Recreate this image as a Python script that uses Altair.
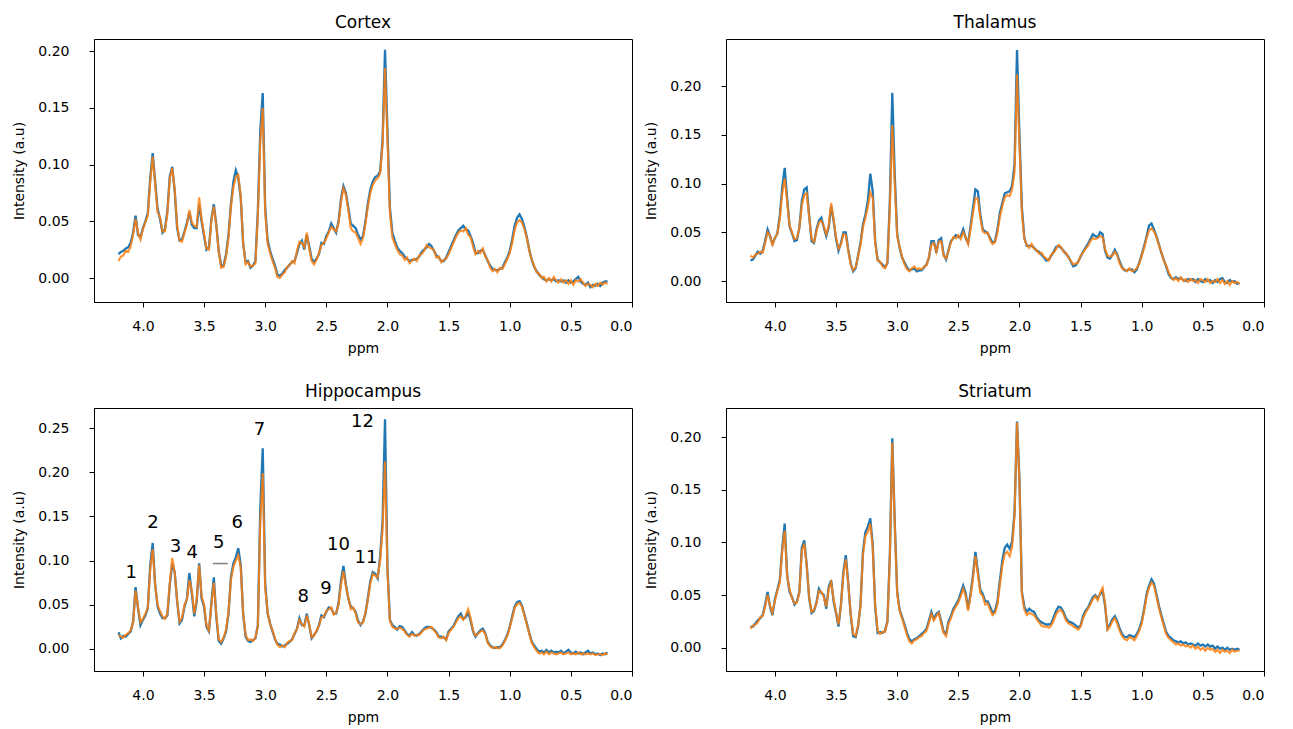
import altair as alt
import pandas as pd

# chemical shift grid (ppm), 4.20 -> 0.20 in 0.02 steps
PPM = [round(4.2 - 0.02 * i, 2) for i in range(201)]

CORTEX_BLUE = [
    0.021, 0.023, 0.024, 0.026, 0.027, 0.031, 0.040, 0.055, 0.038, 0.036,
    0.044, 0.050, 0.057, 0.088, 0.110, 0.085, 0.061, 0.052, 0.040, 0.043,
    0.059, 0.090, 0.098, 0.077, 0.044, 0.033, 0.034, 0.041, 0.049, 0.058,
    0.047, 0.044, 0.044, 0.065, 0.050, 0.037, 0.025, 0.027, 0.052, 0.065,
    0.047, 0.024, 0.011, 0.011, 0.021, 0.038, 0.065, 0.085, 0.095, 0.088,
    0.071, 0.030, 0.014, 0.015, 0.009, 0.011, 0.015, 0.059, 0.130, 0.163,
    0.062, 0.033, 0.024, 0.017, 0.011, 0.003, 0.002, 0.004, 0.007, 0.009,
    0.012, 0.014, 0.015, 0.022, 0.030, 0.033, 0.025, 0.038, 0.028, 0.017,
    0.014, 0.017, 0.021, 0.031, 0.030, 0.037, 0.041, 0.048, 0.044, 0.040,
    0.050, 0.070, 0.081, 0.075, 0.062, 0.048, 0.046, 0.044, 0.038, 0.034,
    0.037, 0.050, 0.066, 0.078, 0.085, 0.089, 0.090, 0.094, 0.121, 0.201,
    0.130, 0.062, 0.040, 0.033, 0.027, 0.024, 0.022, 0.019, 0.017, 0.015,
    0.016, 0.016, 0.017, 0.019, 0.023, 0.025, 0.027, 0.030, 0.028, 0.024,
    0.020, 0.018, 0.015, 0.015, 0.018, 0.023, 0.028, 0.033, 0.038, 0.042,
    0.044, 0.046, 0.043, 0.042, 0.037, 0.031, 0.022, 0.022, 0.024, 0.025,
    0.020, 0.015, 0.011, 0.008, 0.007, 0.007, 0.008, 0.009, 0.014, 0.018,
    0.024, 0.034, 0.046, 0.053, 0.056, 0.052, 0.045, 0.036, 0.025, 0.016,
    0.010, 0.006, 0.003, 0.001, -0.001, -0.002, -0.001, -0.002, -0.001, -0.003,
    -0.002, -0.003, -0.002, -0.004, -0.002, -0.004, -0.003, -0.001, 0.001, -0.003,
    -0.005, -0.006, -0.004, -0.008, -0.006, -0.007, -0.005, -0.007, -0.004, -0.003, -0.003,
]
CORTEX_ORANGE = [
    0.015, 0.019, 0.020, 0.024, 0.023, 0.028, 0.038, 0.052, 0.040, 0.034,
    0.043, 0.049, 0.055, 0.085, 0.107, 0.083, 0.058, 0.054, 0.041, 0.041,
    0.057, 0.088, 0.097, 0.078, 0.046, 0.033, 0.032, 0.040, 0.047, 0.060,
    0.049, 0.046, 0.045, 0.071, 0.052, 0.039, 0.026, 0.025, 0.050, 0.063,
    0.046, 0.023, 0.009, 0.010, 0.019, 0.036, 0.063, 0.080, 0.089, 0.091,
    0.072, 0.031, 0.012, 0.014, 0.010, 0.011, 0.013, 0.055, 0.120, 0.150,
    0.058, 0.030, 0.022, 0.015, 0.009, 0.001, 0.000, 0.003, 0.005, 0.010,
    0.011, 0.015, 0.013, 0.024, 0.032, 0.031, 0.027, 0.040, 0.026, 0.015,
    0.012, 0.016, 0.022, 0.029, 0.031, 0.035, 0.040, 0.045, 0.043, 0.041,
    0.048, 0.067, 0.079, 0.073, 0.060, 0.044, 0.041, 0.040, 0.035, 0.030,
    0.035, 0.048, 0.063, 0.075, 0.082, 0.086, 0.088, 0.092, 0.117, 0.185,
    0.122, 0.058, 0.036, 0.030, 0.025, 0.021, 0.020, 0.016, 0.018, 0.013,
    0.015, 0.017, 0.015, 0.020, 0.021, 0.024, 0.029, 0.027, 0.026, 0.025,
    0.018, 0.019, 0.014, 0.016, 0.017, 0.021, 0.026, 0.031, 0.036, 0.040,
    0.042, 0.041, 0.044, 0.038, 0.036, 0.028, 0.021, 0.024, 0.022, 0.026,
    0.019, 0.016, 0.009, 0.006, 0.008, 0.005, 0.009, 0.008, 0.012, 0.017,
    0.022, 0.031, 0.042, 0.049, 0.051, 0.049, 0.043, 0.035, 0.024, 0.016,
    0.011, 0.005, 0.004, 0.000, 0.001, -0.003, 0.000, -0.003, 0.001, -0.002,
    -0.004, -0.001, -0.004, -0.002, -0.005, -0.002, -0.006, -0.002, -0.003, -0.001,
    -0.004, -0.007, -0.005, -0.006, -0.008, -0.005, -0.007, -0.004, -0.006, -0.004, -0.005,
]

THALAMUS_BLUE = [
    0.021, 0.022, 0.026, 0.030, 0.028, 0.031, 0.041, 0.053, 0.046, 0.038,
    0.044, 0.049, 0.067, 0.096, 0.116, 0.085, 0.056, 0.049, 0.041, 0.042,
    0.055, 0.082, 0.094, 0.096, 0.067, 0.041, 0.039, 0.053, 0.062, 0.065,
    0.055, 0.046, 0.055, 0.077, 0.062, 0.043, 0.031, 0.039, 0.050, 0.050,
    0.032, 0.018, 0.010, 0.013, 0.026, 0.039, 0.058, 0.068, 0.082, 0.110,
    0.092, 0.041, 0.022, 0.019, 0.017, 0.014, 0.018, 0.082, 0.193, 0.109,
    0.048, 0.034, 0.024, 0.019, 0.014, 0.011, 0.012, 0.013, 0.010, 0.011,
    0.011, 0.014, 0.017, 0.024, 0.041, 0.041, 0.029, 0.042, 0.044, 0.027,
    0.022, 0.032, 0.041, 0.044, 0.047, 0.045, 0.046, 0.053, 0.044, 0.039,
    0.056, 0.075, 0.094, 0.092, 0.068, 0.053, 0.051, 0.049, 0.044, 0.039,
    0.041, 0.053, 0.070, 0.080, 0.090, 0.091, 0.092, 0.098, 0.120, 0.237,
    0.150, 0.075, 0.044, 0.036, 0.036, 0.036, 0.034, 0.031, 0.030, 0.027,
    0.024, 0.021, 0.022, 0.026, 0.030, 0.035, 0.036, 0.034, 0.031, 0.028,
    0.025, 0.020, 0.015, 0.016, 0.020, 0.025, 0.030, 0.034, 0.038, 0.043,
    0.048, 0.046, 0.045, 0.050, 0.048, 0.031, 0.024, 0.023, 0.027, 0.032,
    0.027, 0.020, 0.014, 0.011, 0.011, 0.012, 0.012, 0.009, 0.012, 0.019,
    0.027, 0.036, 0.046, 0.057, 0.059, 0.053, 0.046, 0.038, 0.029, 0.022,
    0.015, 0.007, 0.003, 0.002, 0.004, 0.002, 0.003, 0.001, 0.000, 0.002,
    0.001, 0.002, -0.001, 0.002, 0.000, -0.001, 0.002, 0.000, 0.001, -0.002,
    0.001, -0.001, 0.002, 0.003, -0.001, -0.002, 0.001, -0.001, 0.000, -0.003, -0.002,
]
THALAMUS_ORANGE = [
    0.026, 0.024, 0.027, 0.028, 0.030, 0.029, 0.039, 0.050, 0.047, 0.036,
    0.045, 0.048, 0.064, 0.090, 0.105, 0.082, 0.057, 0.050, 0.043, 0.044,
    0.054, 0.078, 0.088, 0.090, 0.066, 0.043, 0.040, 0.051, 0.060, 0.062,
    0.056, 0.048, 0.057, 0.080, 0.063, 0.045, 0.033, 0.037, 0.048, 0.047,
    0.031, 0.017, 0.011, 0.014, 0.025, 0.037, 0.055, 0.065, 0.076, 0.091,
    0.085, 0.040, 0.021, 0.020, 0.015, 0.013, 0.019, 0.075, 0.160, 0.100,
    0.046, 0.035, 0.025, 0.017, 0.012, 0.010, 0.013, 0.015, 0.012, 0.013,
    0.012, 0.015, 0.016, 0.025, 0.037, 0.039, 0.030, 0.040, 0.041, 0.026,
    0.023, 0.031, 0.040, 0.045, 0.044, 0.047, 0.043, 0.050, 0.045, 0.038,
    0.053, 0.070, 0.085, 0.084, 0.065, 0.051, 0.049, 0.050, 0.042, 0.038,
    0.040, 0.050, 0.066, 0.077, 0.086, 0.088, 0.087, 0.094, 0.112, 0.212,
    0.140, 0.070, 0.043, 0.037, 0.034, 0.038, 0.033, 0.032, 0.028, 0.029,
    0.025, 0.023, 0.021, 0.027, 0.029, 0.033, 0.037, 0.035, 0.030, 0.029,
    0.024, 0.021, 0.017, 0.018, 0.019, 0.026, 0.029, 0.033, 0.036, 0.041,
    0.044, 0.043, 0.044, 0.046, 0.045, 0.033, 0.026, 0.025, 0.026, 0.030,
    0.026, 0.018, 0.013, 0.012, 0.010, 0.013, 0.010, 0.011, 0.013, 0.018,
    0.026, 0.034, 0.044, 0.052, 0.054, 0.051, 0.045, 0.037, 0.030, 0.021,
    0.016, 0.009, 0.004, 0.001, 0.003, 0.000, 0.004, 0.000, 0.002, -0.001,
    0.002, 0.000, 0.001, -0.002, 0.002, 0.001, -0.001, 0.002, -0.002, 0.000,
    -0.001, 0.002, -0.002, 0.001, -0.003, 0.000, -0.004, 0.000, -0.002, -0.001, -0.003,
]

HIPPOCAMPUS_BLUE = [
    0.019, 0.012, 0.015, 0.014, 0.017, 0.020, 0.031, 0.070, 0.046, 0.027,
    0.033, 0.038, 0.046, 0.095, 0.120, 0.073, 0.048, 0.040, 0.035, 0.035,
    0.038, 0.073, 0.097, 0.087, 0.054, 0.029, 0.033, 0.048, 0.057, 0.086,
    0.063, 0.037, 0.054, 0.097, 0.057, 0.048, 0.025, 0.020, 0.052, 0.081,
    0.037, 0.009, 0.006, 0.012, 0.020, 0.040, 0.082, 0.097, 0.104, 0.114,
    0.095, 0.039, 0.014, 0.009, 0.008, 0.010, 0.012, 0.027, 0.160, 0.227,
    0.074, 0.040, 0.029, 0.020, 0.011, 0.006, 0.005, 0.003, 0.004, 0.006,
    0.008, 0.011, 0.017, 0.023, 0.035, 0.027, 0.027, 0.040, 0.027, 0.012,
    0.016, 0.020, 0.027, 0.038, 0.036, 0.042, 0.047, 0.046, 0.040, 0.040,
    0.052, 0.077, 0.094, 0.073, 0.057, 0.048, 0.046, 0.042, 0.032, 0.027,
    0.031, 0.040, 0.058, 0.077, 0.087, 0.085, 0.080, 0.104, 0.144, 0.260,
    0.092, 0.033, 0.027, 0.025, 0.022, 0.026, 0.025, 0.021, 0.017, 0.015,
    0.019, 0.016, 0.015, 0.017, 0.020, 0.023, 0.025, 0.025, 0.024, 0.022,
    0.019, 0.014, 0.014, 0.013, 0.011, 0.020, 0.023, 0.026, 0.032, 0.037,
    0.040, 0.034, 0.036, 0.041, 0.032, 0.020, 0.014, 0.018, 0.021, 0.023,
    0.018, 0.008, 0.004, 0.002, 0.001, 0.002, 0.002, 0.005, 0.010, 0.016,
    0.025, 0.037, 0.048, 0.053, 0.054, 0.049, 0.039, 0.029, 0.018, 0.008,
    0.004, 0.000, -0.003, -0.002, -0.004, -0.001, -0.004, -0.002, -0.004, -0.003,
    -0.004, -0.002, -0.005, -0.003, -0.001, -0.004, -0.005, -0.003, -0.005, -0.004,
    -0.006, -0.004, -0.002, -0.005, -0.004, -0.006, -0.005, -0.007, -0.005, -0.006, -0.004,
]
HIPPOCAMPUS_ORANGE = [
    0.016, 0.014, 0.013, 0.016, 0.018, 0.021, 0.030, 0.066, 0.047, 0.030,
    0.034, 0.040, 0.047, 0.090, 0.113, 0.072, 0.050, 0.043, 0.037, 0.034,
    0.040, 0.075, 0.103, 0.086, 0.055, 0.031, 0.035, 0.050, 0.056, 0.078,
    0.066, 0.040, 0.056, 0.095, 0.060, 0.050, 0.027, 0.021, 0.050, 0.075,
    0.039, 0.011, 0.008, 0.013, 0.022, 0.042, 0.078, 0.093, 0.100, 0.106,
    0.092, 0.040, 0.016, 0.010, 0.011, 0.009, 0.013, 0.026, 0.145, 0.199,
    0.070, 0.041, 0.028, 0.021, 0.012, 0.005, 0.002, 0.004, 0.002, 0.007,
    0.009, 0.010, 0.018, 0.022, 0.033, 0.028, 0.025, 0.038, 0.028, 0.013,
    0.015, 0.021, 0.026, 0.036, 0.037, 0.043, 0.045, 0.047, 0.039, 0.041,
    0.050, 0.073, 0.088, 0.071, 0.058, 0.045, 0.047, 0.040, 0.030, 0.028,
    0.030, 0.041, 0.056, 0.074, 0.085, 0.083, 0.081, 0.100, 0.135, 0.212,
    0.088, 0.032, 0.025, 0.023, 0.023, 0.024, 0.023, 0.020, 0.016, 0.014,
    0.017, 0.015, 0.016, 0.016, 0.019, 0.022, 0.023, 0.024, 0.025, 0.021,
    0.018, 0.013, 0.012, 0.014, 0.010, 0.018, 0.022, 0.025, 0.030, 0.035,
    0.037, 0.033, 0.038, 0.045, 0.035, 0.021, 0.015, 0.017, 0.020, 0.021,
    0.017, 0.007, 0.003, 0.001, 0.002, 0.001, 0.001, 0.004, 0.009, 0.015,
    0.024, 0.035, 0.046, 0.051, 0.052, 0.048, 0.038, 0.028, 0.017, 0.007,
    0.002, -0.002, -0.005, -0.004, -0.006, -0.003, -0.006, -0.004, -0.005, -0.006,
    -0.005, -0.004, -0.006, -0.005, -0.004, -0.006, -0.005, -0.006, -0.004, -0.006,
    -0.005, -0.006, -0.005, -0.006, -0.005, -0.007, -0.006, -0.006, -0.007, -0.005, -0.006,
]

STRIATUM_BLUE = [
    0.020, 0.020, 0.023, 0.026, 0.028, 0.031, 0.041, 0.053, 0.039, 0.031,
    0.046, 0.055, 0.064, 0.095, 0.118, 0.069, 0.053, 0.048, 0.041, 0.044,
    0.053, 0.095, 0.102, 0.079, 0.047, 0.033, 0.035, 0.043, 0.056, 0.052,
    0.050, 0.037, 0.058, 0.064, 0.044, 0.033, 0.020, 0.041, 0.072, 0.088,
    0.061, 0.031, 0.011, 0.010, 0.020, 0.041, 0.091, 0.110, 0.115, 0.123,
    0.098, 0.039, 0.014, 0.015, 0.014, 0.016, 0.025, 0.088, 0.199, 0.120,
    0.053, 0.036, 0.029, 0.022, 0.014, 0.008, 0.006, 0.008, 0.009, 0.011,
    0.013, 0.015, 0.018, 0.026, 0.034, 0.027, 0.032, 0.034, 0.025, 0.015,
    0.013, 0.025, 0.030, 0.037, 0.041, 0.045, 0.052, 0.059, 0.052, 0.037,
    0.051, 0.069, 0.091, 0.072, 0.055, 0.051, 0.044, 0.044, 0.039, 0.033,
    0.035, 0.044, 0.064, 0.083, 0.095, 0.098, 0.094, 0.101, 0.129, 0.215,
    0.160, 0.053, 0.039, 0.034, 0.037, 0.035, 0.034, 0.029, 0.026, 0.024,
    0.023, 0.022, 0.022, 0.023, 0.029, 0.035, 0.039, 0.038, 0.034, 0.028,
    0.025, 0.024, 0.023, 0.021, 0.019, 0.021, 0.030, 0.035, 0.038, 0.043,
    0.048, 0.050, 0.047, 0.051, 0.054, 0.040, 0.018, 0.022, 0.027, 0.030,
    0.025, 0.018, 0.013, 0.010, 0.010, 0.012, 0.011, 0.010, 0.013, 0.018,
    0.025, 0.037, 0.051, 0.059, 0.065, 0.061, 0.051, 0.040, 0.031, 0.023,
    0.015, 0.011, 0.009, 0.007, 0.006, 0.005, 0.006, 0.004, 0.005, 0.003,
    0.004, 0.003, 0.002, 0.004, 0.002, 0.003, 0.001, 0.003, 0.001, 0.002,
    -0.001, 0.001, -0.001, 0.000, -0.002, 0.000, -0.002, -0.001, -0.002, -0.001, -0.002,
]
STRIATUM_ORANGE = [
    0.018, 0.021, 0.022, 0.024, 0.029, 0.030, 0.039, 0.050, 0.040, 0.033,
    0.045, 0.054, 0.062, 0.092, 0.111, 0.068, 0.055, 0.047, 0.042, 0.043,
    0.052, 0.092, 0.099, 0.078, 0.048, 0.034, 0.036, 0.042, 0.054, 0.053,
    0.048, 0.039, 0.056, 0.062, 0.046, 0.034, 0.022, 0.040, 0.070, 0.084,
    0.060, 0.032, 0.013, 0.011, 0.021, 0.040, 0.088, 0.106, 0.110, 0.118,
    0.095, 0.040, 0.016, 0.013, 0.015, 0.015, 0.024, 0.085, 0.195, 0.118,
    0.051, 0.035, 0.028, 0.020, 0.012, 0.006, 0.004, 0.007, 0.008, 0.010,
    0.011, 0.014, 0.016, 0.024, 0.032, 0.026, 0.030, 0.033, 0.023, 0.014,
    0.011, 0.023, 0.028, 0.035, 0.039, 0.043, 0.049, 0.056, 0.049, 0.035,
    0.049, 0.066, 0.087, 0.070, 0.052, 0.049, 0.041, 0.042, 0.036, 0.031,
    0.033, 0.041, 0.060, 0.078, 0.089, 0.091, 0.087, 0.096, 0.126, 0.214,
    0.158, 0.051, 0.036, 0.031, 0.033, 0.032, 0.031, 0.027, 0.024, 0.021,
    0.020, 0.020, 0.019, 0.021, 0.026, 0.032, 0.035, 0.036, 0.032, 0.026,
    0.023, 0.022, 0.020, 0.019, 0.017, 0.020, 0.028, 0.033, 0.037, 0.041,
    0.046, 0.049, 0.045, 0.052, 0.057, 0.042, 0.017, 0.020, 0.025, 0.028,
    0.023, 0.016, 0.011, 0.008, 0.007, 0.010, 0.009, 0.007, 0.011, 0.016,
    0.023, 0.035, 0.049, 0.057, 0.062, 0.059, 0.049, 0.038, 0.029, 0.021,
    0.013, 0.009, 0.007, 0.005, 0.003, 0.004, 0.002, 0.003, 0.001, 0.002,
    0.000, 0.002, -0.001, 0.001, -0.002, 0.000, -0.003, 0.000, -0.002, -0.001,
    -0.004, -0.002, -0.005, -0.002, -0.004, -0.003, -0.005, -0.002, -0.004, -0.003, -0.003,
]

# Hippocampus peak annotations
ANNOT_TEXT = ["1", "2", "3", "4", "5", "6", "7", "8", "9", "10", "11", "12"]
ANNOT_PPM = [4.095, 3.918, 3.733, 3.597, 3.380, 3.229, 3.047, 2.688, 2.503, 2.400, 2.176, 2.204]
ANNOT_VAL = [0.0857, 0.1423, 0.1159, 0.1091, 0.1197, 0.1423, 0.2482, 0.0593, 0.0675, 0.1179, 0.1035, 0.2572]
MARK5_PPM = [3.429, 3.306]
MARK5_VAL = 0.0967

X_TICKS = [0.0, 0.5, 1.0, 1.5, 2.0, 2.5, 3.0, 3.5, 4.0]

PANELS = [
    ("Cortex", CORTEX_BLUE, CORTEX_ORANGE, [-0.0211, 0.2106], [0.0, 0.05, 0.10, 0.15, 0.20]),
    ("Thalamus", THALAMUS_BLUE, THALAMUS_ORANGE, [-0.0215, 0.2482], [0.0, 0.05, 0.10, 0.15, 0.20]),
    ("Hippocampus", HIPPOCAMPUS_BLUE, HIPPOCAMPUS_ORANGE, [-0.0249, 0.2727], [0.0, 0.05, 0.10, 0.15, 0.20, 0.25]),
    ("Striatum", STRIATUM_BLUE, STRIATUM_ORANGE, [-0.0222, 0.2279], [0.0, 0.05, 0.10, 0.15, 0.20]),
]

W, H = 538, 263


def make_panel(title, blue, orange, ydom, yticks, annotate=False):
    for arr in (blue, orange):
        if len(arr) != len(PPM):
            raise ValueError(f"{title}: {len(arr)} values for {len(PPM)} ppm points")
    x = alt.X("ppm:Q",
              scale=alt.Scale(domain=[0, 4.4], reverse=True, nice=False, zero=False),
              axis=alt.Axis(values=X_TICKS, format=".1f", title="ppm"))
    y = alt.Y("val:Q",
              scale=alt.Scale(domain=ydom, nice=False, zero=False),
              axis=alt.Axis(values=yticks, format=".2f", title="Intensity (a.u)"))
    dfb = pd.DataFrame({"ppm": PPM, "val": blue})
    dfo = pd.DataFrame({"ppm": PPM, "val": orange})
    lb = alt.Chart(dfb).mark_line(color="#1f77b4", strokeWidth=2.3, clip=True).encode(x=x, y=y)
    lo = alt.Chart(dfo).mark_line(color="#ff7f0e", strokeWidth=2.1, opacity=0.85, clip=True).encode(x=x, y=y)
    layers = [lb, lo]
    if annotate:
        dft = pd.DataFrame({"ppm": ANNOT_PPM, "val": ANNOT_VAL, "label": ANNOT_TEXT})
        txt = alt.Chart(dft).mark_text(fontSize=18, font="DejaVu Sans", color="black",
                                       align="center", baseline="middle").encode(
            x=x, y=y, text="label:N")
        dfr = pd.DataFrame({"ppm": [MARK5_PPM[0]], "ppm2": [MARK5_PPM[1]], "val": [MARK5_VAL]})
        rule = alt.Chart(dfr).mark_rule(color="#808080", strokeWidth=1.5).encode(
            x=x, x2="ppm2:Q", y=y)
        layers += [rule, txt]
    return alt.layer(*layers).properties(
        width=W, height=H,
        title=alt.TitleParams(title, fontSize=17, font="DejaVu Sans", fontWeight="normal",
                              color="black", anchor="middle", offset=7))


cortex = make_panel(*PANELS[0])
thalamus = make_panel(*PANELS[1])
hippo = make_panel(*PANELS[2], annotate=True)
striatum = make_panel(*PANELS[3])

top = alt.hconcat(cortex, thalamus, spacing=11)
bottom = alt.hconcat(hippo, striatum, spacing=11)

chart = alt.vconcat(top, bottom, spacing=26).properties(
    padding={"left": 4, "top": 5, "right": 5, "bottom": 5},
    background="white",
).configure_axis(
    labelFont="DejaVu Sans", labelFontSize=14, labelColor="black",
    titleFont="DejaVu Sans", titleFontSize=14, titleFontWeight="normal", titleColor="black",
    tickColor="black", tickSize=5, domainColor="black", grid=False,
).configure_axisY(labelPadding=20, titlePadding=11).configure_axisX(
    labelPadding=12, titlePadding=8
).configure_view(
    stroke="black", strokeWidth=1
)

chart.save("out.html", embed_options={"renderer": "svg", "actions": False})
